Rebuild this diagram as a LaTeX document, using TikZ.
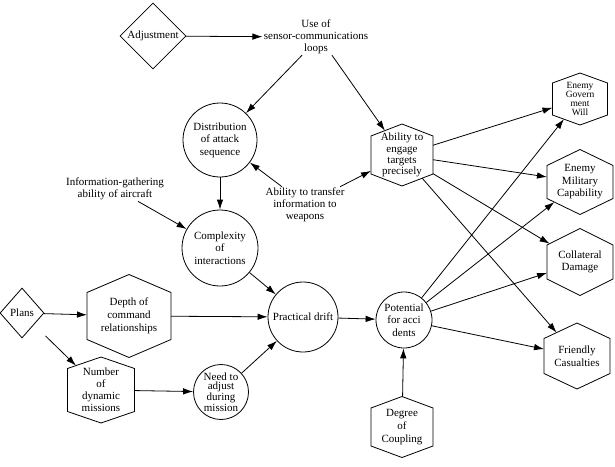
\documentclass[tikz,border=0pt]{standalone}
\usepackage{fontspec}
\setmainfont{Liberation Serif}
\usetikzlibrary{arrows.meta,shapes.geometric}

\makeatletter
\pgfkeys{/pgf/hex tip/.initial=12pt}
\pgfdeclareshape{hexbox}{%
  \savedanchor\hexcorner{%
    \pgfmathsetlengthmacro\hexw{0.5*\pgfkeysvalueof{/pgf/minimum width}}%
    \pgfmathsetlengthmacro\hexh{0.5*\pgfkeysvalueof{/pgf/minimum height}}%
    \pgf@x=\hexw\relax
    \pgf@y=\hexh\relax
  }%
  \savedmacro\hextipl{%
    \pgfmathsetmacro\hextipl{\pgfkeysvalueof{/pgf/hex tip}}%
  }%
  \savedanchor\hextext{%
    \pgf@x=-.5\wd\pgfnodeparttextbox
    \pgf@y=-.5\ht\pgfnodeparttextbox
    \advance\pgf@y by .5\dp\pgfnodeparttextbox
  }%
  \anchor{center}{\pgfpointorigin}%
  \anchor{text}{\hextext}%
  \anchor{north}{\hexcorner\pgf@x=0pt}%
  \anchor{south}{\hexcorner\pgf@x=0pt\pgf@y=-\pgf@y}%
  \anchor{east}{\hexcorner\pgf@y=0pt}%
  \anchor{west}{\hexcorner\pgf@x=-\pgf@x\pgf@y=0pt}%
  \backgroundpath{%
    \hexcorner
    \edef\hexa{\the\pgf@x}\edef\hexc{\the\pgf@y}%
    \pgfmathsetlengthmacro\hexb{\hexc-\hextipl pt}%
    \pgfpathmoveto{\pgfqpoint{0pt}{\hexc}}%
    \pgfpathlineto{\pgfqpoint{\hexa}{\hexb}}%
    \pgfpathlineto{\pgfqpoint{\hexa}{-\hexb}}%
    \pgfpathlineto{\pgfqpoint{0pt}{-\hexc}}%
    \pgfpathlineto{\pgfqpoint{-\hexa}{-\hexb}}%
    \pgfpathlineto{\pgfqpoint{-\hexa}{\hexb}}%
    \pgfpathclose
  }%
  \anchorborder{%
    \edef\hexdx{\the\pgf@x}\edef\hexdy{\the\pgf@y}%
    \pgfpointnormalised{\pgfqpoint{\hexdx}{\hexdy}}%
    \edef\hexux{\the\pgf@x}\edef\hexuy{\the\pgf@y}%
    \hexcorner
    \edef\hexa{\the\pgf@x}\edef\hexc{\the\pgf@y}%
    \pgfmathsetmacro\hexax{abs(\hexux)}%
    \pgfmathsetmacro\hexay{abs(\hexuy)}%
    \pgfmathsetmacro\hexb{\hexc-\hextipl}%
    \pgfmathsetmacro\hexside{(\hexay*\hexa < \hexb*\hexax) ? 1 : 0}%
    \ifdim\hexside pt>0.5pt
      \pgfmathsetmacro\hext{\hexa/\hexax}%
    \else
      \pgfmathsetmacro\hext{\hexc/(\hexay+\hextipl*\hexax/\hexa)}%
    \fi
    \pgf@x=\hexux\relax
    \pgf@x=\hext\pgf@x
    \pgf@y=\hexuy\relax
    \pgf@y=\hext\pgf@y
  }%
}
\makeatother

\tikzset{
  lab/.style={align=center, inner sep=1pt, font=\fontsize{11}{11.8}\selectfont},
  circ/.style={draw, circle, inner sep=0pt, align=center, font=\fontsize{11}{12.5}\selectfont},
  dia/.style={draw, diamond, aspect=1, inner sep=0pt, font=\fontsize{11}{12}\selectfont},
  hexa/.style={draw, shape=hexbox, align=center, font=\fontsize{11}{12.5}\selectfont},
}

\begin{document}
\begin{tikzpicture}[x=1pt, y=-1pt, line width=0.8pt, >={Latex[length=10pt,width=6.5pt]}]
\useasboundingbox (0,0) rectangle (615,466);
\node[dia, minimum size=66pt] (adj) at (153,36) {Adjustment};
\node[lab] (use) at (316,37) {Use of\\sensor-communications\\loops};
\node[circ, minimum size=74pt] (dist) at (220,140) {Distribution\\of attack\\sequence};
\node[hexa, minimum width=62pt, minimum height=62pt, hex tip=12pt, font=\fontsize{11}{11.2}\selectfont] (engage) at (402,155) {Ability to\\engage\\targets\\precisely};
\node[lab] (transfer) at (305,205) {Ability to transfer\\information to\\weapons};
\node[lab] (info) at (115,189) {Information-gathering\\ability of aircraft};
\node[circ, minimum size=76pt] (complex) at (220,248) {Complexity\\of\\interactions};
\node[dia, minimum width=44pt, minimum height=50pt] (plans) at (22,313) {Plans};
\node[hexa, minimum width=84pt, minimum height=83pt, hex tip=18pt, font=\fontsize{11}{13}\selectfont] (depth) at (129,316) {Depth of\\command\\relationships};
\node[hexa, minimum width=67pt, minimum height=66pt, hex tip=11.5pt, font=\fontsize{11}{12}\selectfont] (number) at (101,390) {Number\\of\\dynamic\\missions};
\node[circ, minimum size=55pt, font=\fontsize{11}{9.5}\selectfont] (need) at (221,392) {Need to\\adjust\\during\\mission};
\node[circ, minimum size=70pt] (drift) at (303,317) {Practical drift};
\node[circ, minimum size=56pt] (potential) at (404,320) {Potential\\for acci\\dents};
\node[hexa, minimum width=62pt, minimum height=61pt, hex tip=11.5pt, font=\fontsize{11}{13}\selectfont] (degree) at (402,427) {Degree\\of\\Coupling};
\node[hexa, minimum width=55pt, minimum height=52pt, hex tip=10pt, font=\fontsize{9.5}{9}\selectfont] (gov) at (580,99) {Enemy\\Govern\\ment\\Will};
\node[hexa, minimum width=66pt, minimum height=65pt, hex tip=16pt] (military) at (580,182) {Enemy\\Military\\Capability};
\node[hexa, minimum width=66pt, minimum height=67pt, hex tip=16.5pt, font=\fontsize{11}{12}\selectfont] (collateral) at (580,262) {Collateral\\Damage};
\node[hexa, minimum width=66pt, minimum height=66pt, hex tip=15.5pt, font=\fontsize{11}{12.7}\selectfont] (friendly) at (577,356) {Friendly\\Casualties};
\draw [->] (adj) -- (use);
\draw [->] ([xshift=-14pt]use.south) -- (dist);
\draw [->] ([xshift=16pt]use.south) -- (engage);
\draw [->] ([xshift=-23pt]transfer.north) -- (dist);
\draw [->] ([xshift=35pt]transfer.north) -- (engage);
\draw [->] (dist) -- (complex);
\draw [->] ([xshift=23pt]info.south) -- (complex);
\draw [->] (complex) -- (drift);
\draw [->] (plans) -- (depth);
\draw [->, shorten <=16pt] (plans) -- (number);
\draw [->] (depth) -- (drift);
\draw [->] (number) -- (need);
\draw [->] (need) -- (drift);
\draw [->] (drift) -- (potential);
\draw [->] (degree) -- (potential);
\draw [->] (engage) -- (gov);
\draw [->] (engage) -- (military);
\draw [->] (engage) -- (collateral);
\draw [->] (engage) -- (friendly);
\draw [->] (potential) -- (gov);
\draw [->] (potential) -- (military);
\draw [->] (potential) -- (collateral);
\draw [->] (potential) -- (friendly);
\end{tikzpicture}
\end{document}
